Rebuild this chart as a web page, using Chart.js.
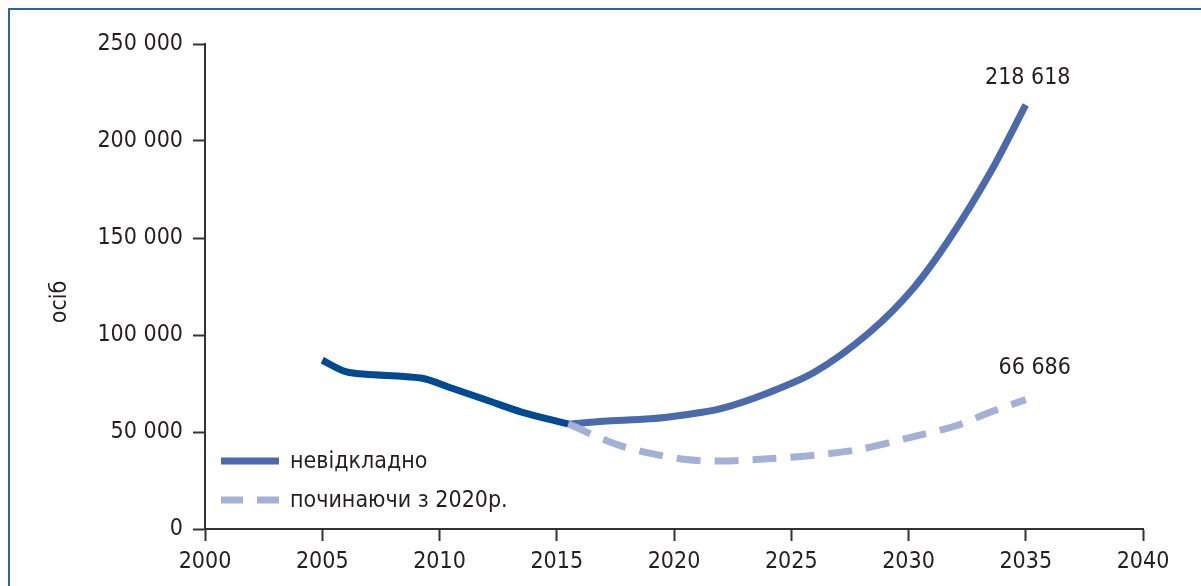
<!DOCTYPE html>
<html lang="uk">
<head>
    <meta charset="UTF-8">
    <title>осіб</title>
    <style>
        html, body {
            margin: 0;
            padding: 0;
            background: #fff;
            overflow: hidden;
        }
        .wrap {
            position: relative;
            width: 1201px;
            height: 586px;
            overflow: hidden;
        }
        .frame {
            position: absolute;
            left: 8px;
            top: 8px;
            width: 2000px;
            height: 2000px;
            border: 2px solid #2e62a6;
        }
        canvas {
            position: absolute;
            left: 0;
            top: 0;
        }
    </style>
    <script src="https://cdn.jsdelivr.net/npm/chart.js"></script>
</head>
<body>
    <div class="wrap">
        <div class="frame"></div>
        <canvas id="chart" width="1201" height="586"></canvas>
    </div>

    <script>
        // values (persons)
        const histYears = [2005, 2006.1, 2009.2, 2010.5, 2012, 2013.5, 2015.5];
        const histValues = [87000, 80800, 77800, 72700, 66500, 60300, 54100];

        const nowYears = [2015.5, 2017, 2019, 2020.5, 2022, 2024, 2026, 2028.3, 2030.2, 2031.8, 2033.5, 2035];
        const nowValues = [54100, 55500, 56800, 58900, 62000, 70100, 80900, 101000, 124000, 150500, 184000, 218618];

        const laterYears = [2015.5, 2017.5, 2019, 2020.5, 2022, 2024, 2026, 2028, 2030, 2032, 2033.5, 2035];
        const laterValues = [54100, 43800, 39000, 35800, 35000, 36200, 38000, 41200, 47000, 53100, 60300, 66686];

        const seriesNames = ['невідкладно', 'починаючи з 2020р.'];
        const endLabels = ['218 618', '66 686'];
        const yTicks = [0, 50000, 100000, 150000, 200000, 250000];
        const xTicks = [2000, 2005, 2010, 2015, 2020, 2025, 2030, 2035, 2040];
        const yTitle = 'осіб';

        const FONT = '"Liberation Sans Narrow", "DejaVu Sans Condensed", "Liberation Sans", sans-serif';
        const TEXT = '#231f20';
        const C_HIST = '#004a91';
        const C_NOW = '#4a6aab';
        const C_LATER = '#a3b1d7';

        const toPoints = (xs, ys) => xs.map((x, i) => ({ x: x, y: ys[i] }));
        const fmt = v => v === 0 ? '0' : String(v).replace(/\B(?=(\d{3})+(?!\d))/g, ' ');

        // legend, end labels and axis title drawn on top of the chart
        const extras = {
            id: 'extras',
            afterDatasetsDraw(chart) {
                const ctx = chart.ctx;
                const area = chart.chartArea;
                const xs = chart.scales.x, ys = chart.scales.y;
                ctx.save();
                ctx.font = '23px ' + FONT;
                ctx.fillStyle = TEXT;

                // end labels
                ctx.textAlign = 'center';
                ctx.textBaseline = 'middle';
                ctx.fillText(endLabels[0], xs.getPixelForValue(2035) + 2, ys.getPixelForValue(218618) - 27);
                ctx.fillText(endLabels[1], xs.getPixelForValue(2035) + 9, ys.getPixelForValue(66686) - 32);

                // legend
                const lx = area.left + 16;
                const rows = [
                    { y: area.bottom - 68, color: C_NOW, dash: [] },
                    { y: area.bottom - 29, color: C_LATER, dash: [22, 14] }
                ];
                rows.forEach((r, i) => {
                    ctx.beginPath();
                    ctx.setLineDash(r.dash);
                    ctx.lineWidth = 7;
                    ctx.strokeStyle = r.color;
                    ctx.lineCap = 'butt';
                    ctx.moveTo(lx, r.y);
                    ctx.lineTo(lx + 58, r.y);
                    ctx.stroke();
                    ctx.setLineDash([]);
                    ctx.textAlign = 'left';
                    ctx.fillText(seriesNames[i], lx + 69, r.y + 1);
                });

                // y title
                ctx.translate(60, 302);
                ctx.rotate(-Math.PI / 2);
                ctx.textAlign = 'center';
                ctx.fillText(yTitle, 0, 0);
                ctx.restore();
            }
        };

        new Chart(document.getElementById('chart'), {
            type: 'line',
            data: {
                datasets: [
                    {
                        label: 'history',
                        data: toPoints(histYears, histValues),
                        borderColor: C_HIST,
                        borderWidth: 7,
                        pointRadius: 0,
                        tension: 0.3
                    },
                    {
                        label: seriesNames[0],
                        data: toPoints(nowYears, nowValues),
                        borderColor: C_NOW,
                        borderWidth: 7,
                        pointRadius: 0,
                        tension: 0.3
                    },
                    {
                        label: seriesNames[1],
                        data: toPoints(laterYears, laterValues),
                        borderColor: C_LATER,
                        borderWidth: 7,
                        borderDash: [24, 14],
                        pointRadius: 0,
                        tension: 0.3
                    }
                ].reverse()
            },
            options: {
                responsive: false,
                animation: false,
                layout: { padding: { left: 0, top: 44, right: 58, bottom: 0 } },
                plugins: {
                    legend: { display: false },
                    tooltip: { enabled: false }
                },
                scales: {
                    x: {
                        type: 'linear',
                        min: 2000,
                        max: 2040,
                        afterBuildTicks: s => { s.ticks = xTicks.map(v => ({ value: v })); },
                        afterFit: s => { s.height = 57; },
                        grid: {
                            drawOnChartArea: false,
                            drawTicks: true,
                            tickLength: 12,
                            tickWidth: 2,
                            tickColor: '#333'
                        },
                        border: { color: '#333', width: 2 },
                        ticks: {
                            color: TEXT,
                            font: { family: FONT, size: 23 },
                            padding: 7,
                            maxRotation: 0,
                            callback: v => String(v)
                        }
                    },
                    y: {
                        min: 0,
                        max: 250000,
                        afterBuildTicks: s => { s.ticks = yTicks.map(v => ({ value: v })); },
                        afterFit: s => { s.width = 205; },
                        grid: {
                            drawOnChartArea: false,
                            drawTicks: true,
                            tickLength: 12,
                            tickWidth: 2,
                            tickColor: '#333'
                        },
                        border: { color: '#333', width: 2 },
                        ticks: {
                            color: TEXT,
                            font: { family: FONT, size: 23 },
                            padding: 10,
                            callback: v => fmt(v)
                        }
                    }
                }
            },
            plugins: [extras]
        });
    </script>
</body>
</html>
